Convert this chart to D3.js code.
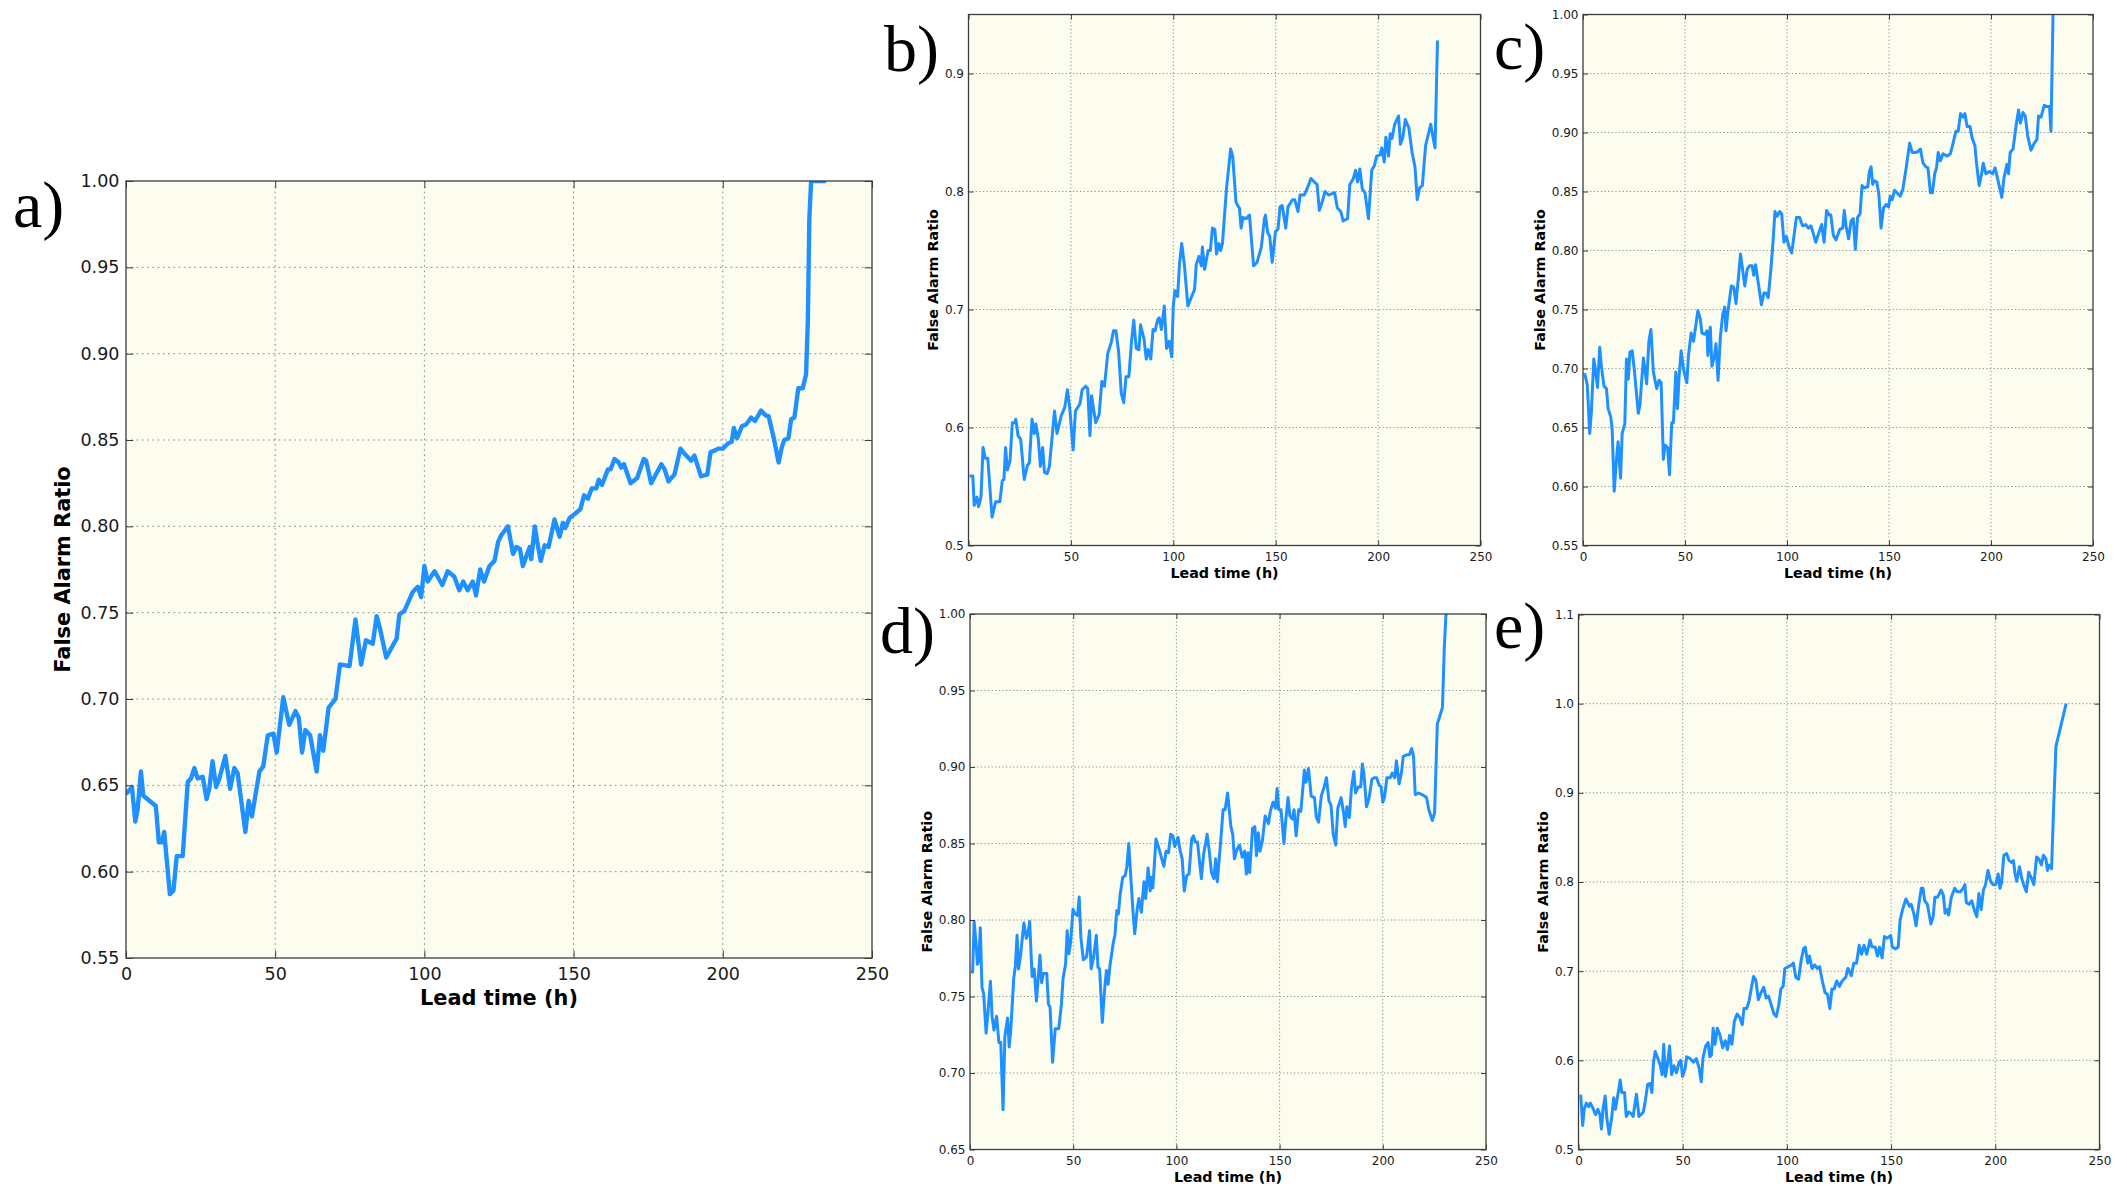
<!DOCTYPE html>
<html>
<head>
<meta charset="utf-8">
<script src="https://cdn.jsdelivr.net/npm/d3@7"></script>
<style>
  body { margin: 0; background: #fff; }
  svg { display: block; }
</style>
</head>
<body>
<div id="chart"></div>
<script>
// False Alarm Ratio vs lead time, five panels
// each entry: [lead time (h), FAR]
var farA = [[0,0.645],[2,0.649],[3.1,0.629],[3.9,0.636],[5,0.658],[5.8,0.644],[10,0.638],[11,0.617],[12,0.617],[12.8,0.623],[14.7,0.587],[15.9,0.589],[17,0.609],[19,0.609],[20.7,0.652],[21.8,0.654],[22.9,0.66],[24,0.654],[25.7,0.655],[27,0.642],[27.9,0.648],[29,0.664],[30.2,0.649],[31.3,0.654],[33.3,0.667],[34.9,0.648],[36.3,0.66],[37.4,0.657],[40,0.623],[41.1,0.641],[42.2,0.632],[44.7,0.658],[46,0.661],[47.5,0.679],[49.4,0.68],[50.5,0.669],[51.6,0.685],[52.7,0.701],[54.7,0.685],[56.8,0.693],[57.9,0.689],[59,0.669],[60.1,0.682],[61.7,0.679],[63.9,0.658],[65,0.679],[66.1,0.67],[67.9,0.695],[70.2,0.7],[71.7,0.72],[74.9,0.719],[76.9,0.746],[78.8,0.72],[80.4,0.734],[82.7,0.732],[84,0.748],[85.1,0.741],[87.2,0.724],[89.4,0.731],[90.7,0.735],[91.6,0.749],[93.3,0.751],[96.1,0.762],[97.8,0.765],[98.9,0.759],[100,0.777],[101.1,0.768],[103.4,0.774],[106,0.766],[107.8,0.774],[110,0.771],[111.7,0.763],[113,0.768],[114.5,0.763],[116.2,0.768],[117.3,0.76],[118.7,0.775],[120,0.768],[121.8,0.777],[123.5,0.78],[124.7,0.791],[125.8,0.795],[128,0.8],[129.7,0.784],[130.8,0.788],[132,0.787],[133,0.777],[134.2,0.783],[135.3,0.788],[135.8,0.781],[137,0.8],[137.8,0.791],[139,0.78],[140.3,0.789],[141.6,0.788],[143.6,0.804],[145.3,0.794],[146.4,0.802],[147.2,0.799],[148.7,0.805],[150.3,0.807],[152.3,0.81],[153.5,0.818],[154.8,0.816],[156.1,0.822],[157.6,0.822],[158.4,0.827],[159.5,0.824],[161.5,0.833],[162.4,0.833],[163.7,0.839],[165.1,0.837],[166,0.834],[166.9,0.836],[169.1,0.825],[171.3,0.828],[173.5,0.839],[174.3,0.838],[176,0.825],[179.4,0.836],[180.5,0.833],[181.8,0.826],[183.8,0.83],[185.8,0.845],[187.2,0.842],[188.3,0.84],[189.4,0.838],[190.5,0.841],[191.4,0.836],[192.7,0.829],[194.8,0.83],[195.9,0.843],[197.4,0.844],[198.5,0.845],[200,0.845],[201.7,0.848],[203,0.849],[203.7,0.857],[204.8,0.851],[206.4,0.858],[207.8,0.859],[209.5,0.863],[210.8,0.861],[212.8,0.867],[214.5,0.864],[215.3,0.864],[217.1,0.851],[218.7,0.837],[219.8,0.846],[220.6,0.85],[222,0.851],[222.9,0.862],[224,0.863],[225.3,0.88],[226.8,0.88],[227.9,0.888],[228.5,0.919],[229,0.978],[229.6,1],[234.6,1]];

var farB = [[0.5,0.559],[2.1,0.559],[2.8,0.534],[4.1,0.541],[4.9,0.533],[6.1,0.541],[7.1,0.583],[8.2,0.574],[9.4,0.574],[11.5,0.524],[13.2,0.537],[15.3,0.537],[16.5,0.555],[17.3,0.556],[18.1,0.583],[19,0.564],[20.3,0.572],[21.4,0.604],[22.6,0.604],[23.1,0.607],[24.2,0.593],[25.5,0.59],[27.2,0.556],[28.8,0.568],[29.7,0.57],[31,0.607],[32.1,0.595],[32.9,0.603],[34.1,0.59],[35.1,0.567],[36.2,0.583],[37.1,0.562],[38.4,0.561],[39.5,0.567],[42,0.614],[43.2,0.595],[45.3,0.61],[47,0.617],[48.3,0.632],[49.4,0.617],[51.1,0.581],[52.2,0.614],[54.4,0.62],[55.5,0.632],[57.2,0.635],[58.2,0.633],[59.3,0.593],[60.1,0.627],[62.1,0.604],[63.8,0.611],[65.1,0.639],[66.4,0.635],[68,0.663],[69.7,0.672],[70.8,0.682],[72,0.682],[73.3,0.664],[74.6,0.629],[75.8,0.621],[76.9,0.643],[78.3,0.643],[79.6,0.673],[80.7,0.691],[81.9,0.667],[83.2,0.666],[84,0.687],[85.7,0.675],[86.8,0.658],[87.8,0.666],[89,0.658],[90.1,0.683],[91.1,0.682],[92.3,0.691],[93.1,0.693],[94.2,0.683],[95.6,0.703],[96.7,0.667],[98,0.673],[99.2,0.66],[100,0.703],[100.8,0.716],[102.1,0.711],[103,0.738],[104.1,0.756],[105.4,0.738],[107.1,0.703],[108.7,0.71],[110.4,0.717],[111.2,0.738],[112.5,0.745],[113.7,0.737],[114.2,0.753],[115.3,0.734],[117,0.75],[118.1,0.75],[119.1,0.769],[120.3,0.768],[121.1,0.747],[122.2,0.756],[123.1,0.75],[124,0.756],[126,0.803],[128,0.836],[129,0.83],[130.6,0.791],[131.8,0.787],[132.3,0.786],[133.1,0.769],[134,0.778],[135.6,0.777],[137.2,0.78],[139.2,0.737],[140.9,0.74],[143,0.753],[144.5,0.777],[145,0.78],[146.1,0.765],[147.1,0.762],[148.3,0.74],[149.9,0.766],[151.1,0.768],[152.1,0.787],[153.2,0.788],[154.9,0.769],[156,0.787],[158.2,0.793],[159.3,0.793],[160.9,0.783],[161.9,0.797],[163.9,0.797],[165.5,0.803],[167.2,0.811],[168.9,0.808],[170.2,0.806],[171.3,0.784],[172.5,0.79],[174.1,0.8],[175.8,0.797],[178.8,0.799],[180.1,0.786],[181.8,0.783],[182.9,0.775],[185.1,0.777],[186.2,0.806],[187.9,0.811],[189,0.818],[190,0.808],[191.1,0.819],[192.3,0.802],[193.6,0.799],[195.3,0.777],[196.9,0.818],[198.2,0.822],[199.3,0.83],[201,0.831],[201.8,0.837],[203,0.825],[203.8,0.846],[205.1,0.83],[205.9,0.849],[206.8,0.845],[208.1,0.857],[210,0.864],[210.9,0.84],[212.1,0.846],[213.3,0.861],[215,0.854],[216.6,0.833],[218,0.821],[219.1,0.793],[220.3,0.803],[221.6,0.805],[223.2,0.839],[225.7,0.857],[226.8,0.846],[227.8,0.837],[229,0.928]];

var farC = [[0.8,0.696],[2.1,0.686],[3.3,0.645],[4.1,0.663],[5.3,0.708],[6.1,0.699],[7.1,0.684],[8.2,0.718],[9,0.702],[10.3,0.685],[11.5,0.683],[12.3,0.666],[13.6,0.659],[14.3,0.648],[15.3,0.596],[16.4,0.623],[17.2,0.638],[18.4,0.607],[19.2,0.645],[20.5,0.653],[21.3,0.708],[22.2,0.691],[23,0.714],[24.1,0.715],[25.1,0.7],[27.1,0.662],[27.9,0.669],[29.6,0.709],[30.4,0.699],[31.2,0.687],[32.3,0.723],[33.3,0.733],[34.5,0.697],[36.1,0.683],[37.3,0.69],[38.3,0.688],[39.4,0.623],[40.2,0.635],[41.5,0.633],[42.4,0.61],[43.5,0.654],[44.3,0.654],[45.5,0.697],[46.3,0.666],[47.1,0.693],[48.1,0.715],[49.3,0.699],[50.9,0.688],[51.7,0.711],[53,0.73],[54.2,0.723],[56.3,0.749],[57.5,0.742],[58.3,0.73],[59.9,0.729],[60.8,0.732],[61.2,0.711],[62.4,0.735],[63.2,0.702],[64.5,0.711],[65.2,0.721],[66.2,0.69],[67.3,0.726],[68.5,0.746],[69.5,0.752],[70.1,0.732],[71.1,0.749],[72.7,0.77],[73.9,0.769],[75,0.755],[76.4,0.781],[77.2,0.797],[78,0.787],[79.3,0.77],[80.5,0.784],[81.6,0.787],[82.9,0.787],[83.7,0.779],[84.6,0.788],[85.7,0.775],[87.5,0.754],[88.7,0.764],[89.8,0.764],[90.8,0.76],[92,0.782],[93.1,0.806],[94.1,0.833],[95.2,0.829],[96.4,0.833],[97.4,0.831],[98.5,0.807],[99.7,0.812],[101,0.803],[102.3,0.798],[103.4,0.812],[104.6,0.828],[106.2,0.828],[107.6,0.821],[109.2,0.822],[110.5,0.819],[111.7,0.821],[112.8,0.815],[114.1,0.807],[115.4,0.814],[117,0.822],[118.2,0.807],[119.4,0.834],[120.7,0.83],[121.5,0.83],[122.7,0.813],[124,0.809],[125.9,0.818],[127.3,0.819],[128.1,0.834],[128.9,0.821],[130.2,0.81],[131.4,0.825],[132.5,0.827],[133.5,0.801],[134.6,0.828],[135.8,0.831],[136.8,0.855],[138,0.853],[139.6,0.854],[140.4,0.867],[141.2,0.871],[142,0.856],[142.9,0.859],[144,0.858],[145,0.848],[146.1,0.819],[147.3,0.836],[148.6,0.839],[149.8,0.837],[150.6,0.846],[151.6,0.843],[152.7,0.851],[153.9,0.849],[155.5,0.846],[156.8,0.852],[158.5,0.871],[160.1,0.891],[161.4,0.883],[163.1,0.883],[164.2,0.884],[165.4,0.886],[166.7,0.874],[168,0.871],[169.1,0.87],[170.3,0.849],[171.3,0.849],[172.4,0.865],[173.3,0.87],[174.1,0.883],[175.2,0.876],[176.5,0.882],[178.5,0.88],[180.1,0.882],[181.4,0.891],[182.8,0.901],[183.9,0.901],[185.1,0.916],[186.4,0.913],[187.2,0.916],[188.3,0.905],[189.7,0.905],[190.8,0.895],[192.1,0.889],[192.9,0.874],[194.2,0.855],[195.4,0.865],[196.2,0.874],[197.5,0.865],[199.2,0.867],[200.8,0.865],[202,0.87],[203.1,0.862],[205.3,0.845],[206.4,0.862],[207.8,0.873],[208.6,0.865],[209.4,0.883],[210.8,0.886],[212.4,0.907],[213.5,0.919],[214.4,0.908],[215.7,0.917],[216.8,0.914],[218,0.897],[219.6,0.885],[221.2,0.891],[222.5,0.894],[223.3,0.914],[224.5,0.913],[226.1,0.923],[227.4,0.922],[228.7,0.922],[229.4,0.901],[230.4,1]];

var farD = [[0.3,0.766],[1.3,0.766],[2,0.799],[3,0.784],[3.6,0.771],[4.3,0.773],[5,0.795],[5.8,0.756],[6.6,0.752],[7.8,0.726],[8.6,0.738],[9.9,0.76],[10.7,0.737],[11.6,0.728],[12.9,0.737],[14,0.72],[14.9,0.72],[16,0.676],[16.9,0.724],[18.2,0.736],[19,0.717],[19.8,0.729],[21.2,0.762],[22,0.77],[22.8,0.79],[23.5,0.768],[24.5,0.777],[26.1,0.798],[27.3,0.788],[28.1,0.791],[28.9,0.799],[30.1,0.763],[31.1,0.768],[32.2,0.747],[33.9,0.777],[34.7,0.759],[35.5,0.765],[37.2,0.765],[38,0.745],[38.8,0.743],[40,0.707],[41.3,0.729],[43,0.729],[44.3,0.745],[45.1,0.762],[46.3,0.771],[47.1,0.793],[47.9,0.778],[48.8,0.786],[49.9,0.807],[50.9,0.804],[52.1,0.803],[52.9,0.815],[53.7,0.789],[54.9,0.774],[56.5,0.776],[57.9,0.793],[58.7,0.768],[59.8,0.775],[61.2,0.79],[62,0.769],[62.8,0.768],[64.1,0.733],[65.3,0.756],[66.1,0.767],[66.9,0.758],[67.8,0.77],[69.4,0.785],[70.2,0.79],[71.1,0.806],[71.9,0.804],[72.7,0.816],[74,0.828],[75.2,0.829],[76,0.835],[76.9,0.85],[78,0.826],[79,0.805],[79.8,0.791],[81,0.807],[81.8,0.814],[83,0.805],[84.3,0.825],[85.1,0.814],[86.3,0.834],[87.3,0.819],[87.9,0.828],[88.6,0.821],[90.1,0.853],[91.7,0.846],[93.9,0.835],[95,0.845],[96.2,0.844],[97.2,0.856],[98.3,0.855],[99.2,0.848],[100.8,0.854],[101.7,0.846],[102.8,0.84],[103.8,0.819],[105,0.829],[106.1,0.83],[107.4,0.853],[108.3,0.855],[109.1,0.851],[110.2,0.851],[112.1,0.827],[113.2,0.843],[114.9,0.856],[116,0.844],[117,0.831],[118.2,0.827],[119,0.84],[119.8,0.825],[121.5,0.852],[122.6,0.872],[123.6,0.872],[124.8,0.883],[125.6,0.872],[126.4,0.861],[127.3,0.856],[128.1,0.84],[129.3,0.846],[130.6,0.849],[131.9,0.841],[133.1,0.845],[133.9,0.83],[134.7,0.844],[135.5,0.831],[136.9,0.86],[138,0.861],[138.8,0.842],[139.7,0.857],[140.5,0.845],[141.7,0.852],[143,0.868],[144.6,0.863],[145.5,0.871],[146.8,0.877],[148,0.873],[148.8,0.886],[149.6,0.872],[150.7,0.872],[152.1,0.85],[152.9,0.864],[154.1,0.88],[155,0.868],[156.2,0.866],[157,0.872],[158,0.855],[159.2,0.872],[160.3,0.871],[162,0.898],[162.8,0.89],[164,0.899],[165.3,0.881],[166.9,0.88],[167.8,0.867],[168.9,0.864],[170.2,0.881],[171.6,0.887],[172.7,0.893],[173.9,0.878],[174.9,0.875],[176,0.856],[177.2,0.849],[178.2,0.873],[179.8,0.88],[181,0.87],[181.8,0.861],[182.6,0.874],[183.8,0.867],[184.8,0.886],[186,0.897],[186.8,0.883],[188.1,0.887],[189.3,0.887],[190.1,0.902],[190.9,0.895],[192.1,0.874],[193.4,0.88],[194.7,0.892],[195.9,0.893],[197,0.893],[198.3,0.888],[199.2,0.887],[200,0.877],[200.8,0.88],[202,0.893],[203.6,0.893],[204.6,0.896],[205.8,0.893],[206.6,0.904],[207.9,0.889],[209.1,0.897],[209.9,0.907],[211.6,0.908],[212.9,0.908],[214,0.912],[214.9,0.907],[215.7,0.882],[217.4,0.883],[219,0.882],[221.2,0.88],[222.3,0.872],[224,0.865],[225.1,0.87],[226.4,0.928],[227.8,0.934],[228.9,0.939],[229.8,0.978],[230.6,1],[231.4,1]];

var farE = [[0.5,0.56],[1.1,0.56],[2,0.527],[2.8,0.546],[3.8,0.552],[4.9,0.548],[5.7,0.552],[7,0.546],[8.2,0.539],[9.3,0.545],[10.3,0.539],[11,0.523],[11.8,0.546],[12.8,0.56],[13.6,0.535],[14.7,0.517],[15.9,0.535],[16.9,0.558],[17.7,0.545],[18.8,0.56],[20,0.578],[20.8,0.564],[22.1,0.564],[22.9,0.537],[24.1,0.542],[25.4,0.54],[26.2,0.537],[27.8,0.562],[29,0.537],[30.3,0.54],[31.1,0.542],[31.9,0.552],[33.2,0.573],[34.4,0.574],[35.2,0.564],[36,0.598],[36.8,0.61],[38.1,0.602],[39.3,0.594],[40.1,0.584],[40.9,0.618],[41.7,0.582],[42.6,0.594],[43.7,0.616],[44.7,0.584],[45.8,0.594],[47,0.586],[48.3,0.598],[49.1,0.6],[49.9,0.582],[51.1,0.59],[51.9,0.604],[53.5,0.602],[55.2,0.598],[56.5,0.602],[57.8,0.592],[58.9,0.576],[59.7,0.602],[61,0.616],[62.2,0.62],[63,0.604],[63.8,0.606],[64.6,0.636],[65.5,0.618],[66.6,0.636],[67.9,0.628],[69.2,0.614],[70.4,0.622],[71.5,0.612],[72.5,0.628],[73.6,0.618],[74.8,0.644],[76.1,0.652],[77.4,0.648],[78.6,0.64],[79.4,0.658],[80.7,0.658],[81.8,0.666],[83,0.682],[84,0.694],[85.1,0.69],[86.3,0.668],[87.6,0.676],[88.9,0.682],[90,0.67],[91.2,0.672],[92.5,0.662],[93.8,0.652],[94.9,0.649],[96.1,0.662],[97.1,0.68],[98.2,0.683],[99,0.703],[100.7,0.705],[102.3,0.707],[103.1,0.709],[104.3,0.693],[105.6,0.691],[106.9,0.713],[108,0.725],[108.8,0.727],[110,0.709],[110.8,0.717],[112.1,0.703],[113.4,0.707],[114.6,0.703],[115.7,0.705],[117,0.689],[118.3,0.676],[119.5,0.674],[120.6,0.658],[121.6,0.68],[122.7,0.68],[123.9,0.689],[125.2,0.683],[126.5,0.689],[128.2,0.693],[129.3,0.703],[130.9,0.695],[132.1,0.709],[133.4,0.709],[134.7,0.729],[135.8,0.719],[137,0.729],[138.3,0.719],[139.9,0.735],[140.8,0.727],[142.4,0.727],[143.5,0.717],[144.5,0.727],[145.7,0.715],[146.8,0.739],[148.1,0.737],[149.8,0.74],[150.6,0.727],[152.2,0.725],[153.4,0.727],[154.3,0.757],[155.5,0.769],[157.1,0.781],[158.8,0.773],[159.6,0.775],[160.9,0.765],[162,0.751],[163.2,0.773],[164.5,0.793],[165.3,0.793],[166.1,0.779],[167.4,0.775],[169.1,0.753],[170.2,0.761],[171,0.783],[172.3,0.783],[174,0.791],[175.1,0.785],[175.9,0.765],[176.8,0.769],[177.6,0.763],[178.9,0.783],[180.5,0.793],[181.7,0.789],[183.3,0.789],[184.5,0.793],[185.4,0.797],[186.1,0.777],[187.4,0.775],[188.7,0.779],[189.9,0.769],[191.1,0.761],[192.1,0.787],[193.2,0.769],[194.3,0.791],[195.3,0.797],[196.5,0.813],[197.7,0.801],[198.9,0.797],[200.2,0.797],[201.4,0.809],[202.2,0.793],[203,0.799],[204.1,0.83],[205.4,0.832],[206.6,0.824],[207.9,0.822],[208.7,0.824],[209.5,0.809],[210.3,0.801],[211.6,0.817],[212.8,0.803],[213.9,0.795],[214.9,0.789],[216,0.811],[217.2,0.805],[218.5,0.797],[219.8,0.828],[220.9,0.826],[222.1,0.819],[223.1,0.83],[224.3,0.826],[225,0.813],[225.9,0.819],[227,0.815],[228,0.884],[229.1,0.952],[234,1]];

var xTicks = [0, 50, 100, 150, 200, 250];
var yTicksA = [0.55, 0.60, 0.65, 0.70, 0.75, 0.80, 0.85, 0.90, 0.95, 1.00];
var yTicksB = [0.5, 0.6, 0.7, 0.8, 0.9];
var yTicksC = [0.55, 0.60, 0.65, 0.70, 0.75, 0.80, 0.85, 0.90, 0.95, 1.00];
var yTicksD = [0.65, 0.70, 0.75, 0.80, 0.85, 0.90, 0.95, 1.00];
var yTicksE = [0.5, 0.6, 0.7, 0.8, 0.9, 1.0, 1.1];
var panelTags = ["a)", "b)", "c)", "d)", "e)"];

var xLabel = "Lead time (h)";
var yLabel = "False Alarm Ratio";

// layout of each panel (pixels)
var panels = [
  { tag: panelTags[0], data: farA, yDom: [0.55, 1.00], ticks: yTicksA, fmt: ".2f",
    left: 126, top: 181, w: 746, h: 777, s: 1.46, tagX: 13, tagY: 227 },
  { tag: panelTags[1], data: farB, yDom: [0.5, 0.95], ticks: yTicksB, fmt: ".1f",
    left: 968.5, top: 14.5, w: 512, h: 531, s: 1, tagX: 884, tagY: 71 },
  { tag: panelTags[2], data: farC, yDom: [0.55, 1.00], ticks: yTicksC, fmt: ".2f",
    left: 1583, top: 14.5, w: 510, h: 531, s: 1, tagX: 1494, tagY: 69 },
  { tag: panelTags[3], data: farD, yDom: [0.65, 1.00], ticks: yTicksD, fmt: ".2f",
    left: 970, top: 614, w: 516, h: 535.5, s: 1, tagX: 880, tagY: 653 },
  { tag: panelTags[4], data: farE, yDom: [0.5, 1.1], ticks: yTicksE, fmt: ".1f",
    left: 1578.5, top: 614.5, w: 521, h: 535, s: 1, tagX: 1494, tagY: 648 }
];

var svg = d3.select("#chart")
  .append("svg")
  .attr("width", 2127)
  .attr("height", 1190);

svg.append("rect").attr("width", 2127).attr("height", 1190).attr("fill", "#ffffff");

var frameColor = "#3c3c3c";
var gridColor = "#8c8c8c";
var lineColor = "#1e90ff";

panels.forEach(function(p, i) {
  var s = p.s;
  var g = svg.append("g").attr("transform", "translate(" + p.left + "," + p.top + ")");

  var x = d3.scaleLinear().domain([0, 250]).range([0, p.w]);
  var y = d3.scaleLinear().domain(p.yDom).range([p.h, 0]);

  g.append("rect")
    .attr("width", p.w).attr("height", p.h)
    .attr("fill", "#fdfdef");

  // dotted grid
  g.append("g").selectAll("line")
    .data(xTicks.filter(function(t) { return t > 0 && t < 250; }))
    .enter().append("line")
    .attr("x1", function(d) { return x(d); }).attr("x2", function(d) { return x(d); })
    .attr("y1", 0).attr("y2", p.h)
    .attr("stroke", gridColor).attr("stroke-width", 1)
    .attr("stroke-dasharray", (1.2 * s) + "," + (2.4 * s));
  g.append("g").selectAll("line")
    .data(p.ticks.filter(function(t) { return y(t) > 1 && y(t) < p.h - 1; }))
    .enter().append("line")
    .attr("y1", function(d) { return y(d); }).attr("y2", function(d) { return y(d); })
    .attr("x1", 0).attr("x2", p.w)
    .attr("stroke", gridColor).attr("stroke-width", 1)
    .attr("stroke-dasharray", (1.2 * s) + "," + (2.4 * s));

  // the line, clipped to the axes box
  var clipId = "clip" + i;
  svg.append("clipPath").attr("id", clipId)
    .append("rect").attr("width", p.w).attr("height", p.h);

  g.append("path")
    .datum(p.data)
    .attr("clip-path", "url(#" + clipId + ")")
    .attr("fill", "none")
    .attr("stroke", lineColor)
    .attr("stroke-width", 3 * s)
    .attr("stroke-linejoin", "round")
    .attr("d", d3.line()
      .x(function(d) { return x(d[0]); })
      .y(function(d) { return y(d[1]); }));

  var tick = 5 * s;
  var tickFont = 12 * s;
  var labFont = 14.3 * s;

  // axes with inward ticks on all four sides
  var gx = g.append("g")
    .attr("transform", "translate(0," + p.h + ")")
    .call(d3.axisBottom(x).tickValues(xTicks).tickSize(-tick).tickSizeOuter(0)
      .tickPadding(6.5 * s).tickFormat(d3.format("d")));
  var gy = g.append("g")
    .call(d3.axisLeft(y).tickValues(p.ticks).tickSize(-tick).tickSizeOuter(0)
      .tickPadding(4.5 * s).tickFormat(d3.format(p.fmt)));
  g.append("g")
    .call(d3.axisTop(x).tickValues(xTicks).tickSize(-tick).tickSizeOuter(0).tickFormat(""));
  g.append("g")
    .attr("transform", "translate(" + p.w + ",0)")
    .call(d3.axisRight(y).tickValues(p.ticks).tickSize(-tick).tickSizeOuter(0).tickFormat(""));

  g.selectAll(".domain").remove();
  g.selectAll(".tick line").attr("stroke", frameColor).attr("stroke-width", 1);
  g.selectAll(".tick text")
    .attr("fill", "#1a1a1a")
    .style("font-family", "'DejaVu Sans', sans-serif")
    .style("font-size", tickFont + "px");

  g.append("rect")
    .attr("width", p.w).attr("height", p.h)
    .attr("fill", "none")
    .attr("stroke", frameColor)
    .attr("stroke-width", 1.3);

  // axis titles
  g.append("text")
    .attr("x", p.w / 2)
    .attr("y", p.h + 32 * s)
    .attr("text-anchor", "middle")
    .style("font-family", "'DejaVu Sans', sans-serif")
    .style("font-weight", "bold")
    .style("font-size", labFont + "px")
    .text(xLabel);

  var bb = gy.node().getBBox();
  var yl = bb.x - 7 * s;
  g.append("text")
    .attr("transform", "translate(" + yl + "," + (p.h / 2) + ") rotate(-90)")
    .attr("text-anchor", "middle")
    .style("font-family", "'DejaVu Sans', sans-serif")
    .style("font-weight", "bold")
    .style("font-size", labFont + "px")
    .text(yLabel);

  // panel letter
  svg.append("text")
    .attr("x", p.tagX)
    .attr("y", p.tagY)
    .style("font-family", "'Liberation Serif', 'Times New Roman', serif")
    .style("font-size", "66px")
    .attr("fill", "#000")
    .text(p.tag);
});
</script>
</body>
</html>
